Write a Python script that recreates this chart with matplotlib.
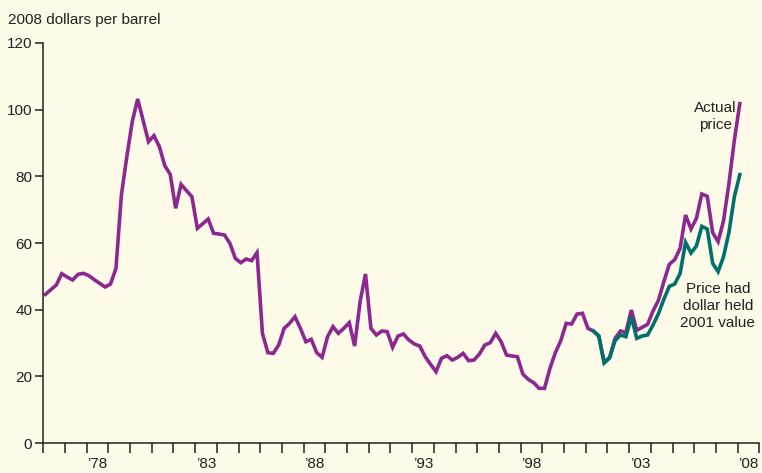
"""
Real oil price vs. price had the dollar held its 2001 value
"""

import numpy as np
import matplotlib.pyplot as plt

# quarterly, 1976Q1 .. 2008Q1, 2008 dollars per barrel
actual_price = [
    44.6, 46.0, 47.4, 50.8, 49.8, 48.9, 50.6, 50.9, 50.2, 49.0,
    47.9, 46.8, 47.7, 52.4, 74.4, 85.9, 96.4, 103.2, 96.8, 90.4,
    92.2, 88.9, 83.2, 80.6, 70.4, 77.6, 75.7, 73.9, 64.4, 65.8,
    67.2, 62.9, 62.7, 62.4, 59.9, 55.4, 54.1, 55.2, 54.7, 57.1,
    32.9, 27.1, 26.9, 29.4, 34.4, 35.9, 37.9, 34.4, 30.4, 31.1,
    27.1, 25.7, 31.9, 34.9, 32.9, 34.4, 36.1, 29.1, 42.4, 50.7,
    34.4, 32.4, 33.6, 33.4, 28.7, 32.1, 32.7, 30.9, 29.7, 29.1,
    25.9, 23.6, 21.4, 25.4, 26.2, 24.9, 25.7, 26.9, 24.7, 24.9,
    26.7, 29.4, 30.1, 32.9, 30.4, 26.4, 26.1, 25.9, 20.7, 19.1,
    18.1, 16.4, 16.4, 22.4, 27.1, 30.7, 35.9, 35.7, 38.7, 38.9,
    34.4, 33.6, 32.2, 24.2, 25.7, 31.4, 33.6, 33.1, 39.9, 33.8,
    34.7, 35.6, 39.6, 42.8, 48.4, 53.6, 55.0, 58.4, 68.4, 64.2,
    67.4, 74.7, 74.0, 63.1, 60.4, 66.7, 77.9, 90.9, 101.8,
]

# starts at 2001Q2
held_2001 = [
    33.6, 32.0, 24.0, 25.5, 30.7, 32.4, 31.9, 37.9, 31.4, 32.1,
    32.4, 35.4, 38.8, 43.1, 47.0, 47.7, 50.9, 60.2, 57.0, 59.1,
    65.0, 64.2, 53.9, 51.4, 55.9, 63.2, 73.9, 80.5,
]

label_years = [1978, 1983, 1988, 1993, 1998, 2003, 2008]
y_ticks = [0, 20, 40, 60, 80, 100, 120]

quarters = 1976 + np.arange(len(actual_price)) / 4 + 0.1
quarters_held = quarters[len(actual_price) - len(held_2001):]

bg = "#fefce9"
txt = "#231f20"
fs = 11
plt.rcParams["font.family"] = ["Liberation Sans", "DejaVu Sans"]

fig = plt.figure(figsize=(7.62, 4.73), dpi=100, facecolor=bg)
ax = fig.add_axes([0.0568, 0.0634, 0.9397, 0.8457], facecolor=bg)

ax.plot(quarters, actual_price, color="#8c2890", lw=2.6, solid_joinstyle="miter")
ax.plot(quarters_held, held_2001, color="#00706c", lw=2.6, solid_joinstyle="miter")

ax.set_xlim(1976, 2009)
ax.set_ylim(0, 120)

for s in ["top", "right"]:
    ax.spines[s].set_visible(False)
for s in ["left", "bottom"]:
    ax.spines[s].set_color(txt)
    ax.spines[s].set_linewidth(1.1)

ax.set_yticks(y_ticks)
ax.set_yticklabels([str(v) for v in y_ticks])
ax.tick_params(axis="y", length=6, width=1.1, color=txt, labelsize=fs,
               labelcolor=txt, pad=2)

ax.set_xticks(np.arange(1976, 2010))
ax.set_xticklabels([])
ax.tick_params(axis="x", which="major", length=7, width=1.1, color=txt)
ax.set_xticks([y + 0.5 for y in label_years], minor=True)
ax.set_xticklabels(["\u2019" + str(y)[2:] for y in label_years], minor=True)
ax.tick_params(axis="x", which="minor", length=0, labelsize=fs,
               labelcolor=txt, pad=10)

fig.text(0.011, 0.957, "2008 dollars per barrel", fontsize=fs, color=txt,
         ha="left", va="center")

ax.text(2006.98, 97.9, "Actual\nprice", fontsize=fs, color=txt,
        ha="center", va="center", linespacing=1.3)
ax.text(2007.09, 41.1, "Price had\ndollar held\n2001 value", fontsize=fs,
        color=txt, ha="center", va="center", linespacing=1.3)

fig.savefig("out.png", dpi=100, facecolor=bg)
